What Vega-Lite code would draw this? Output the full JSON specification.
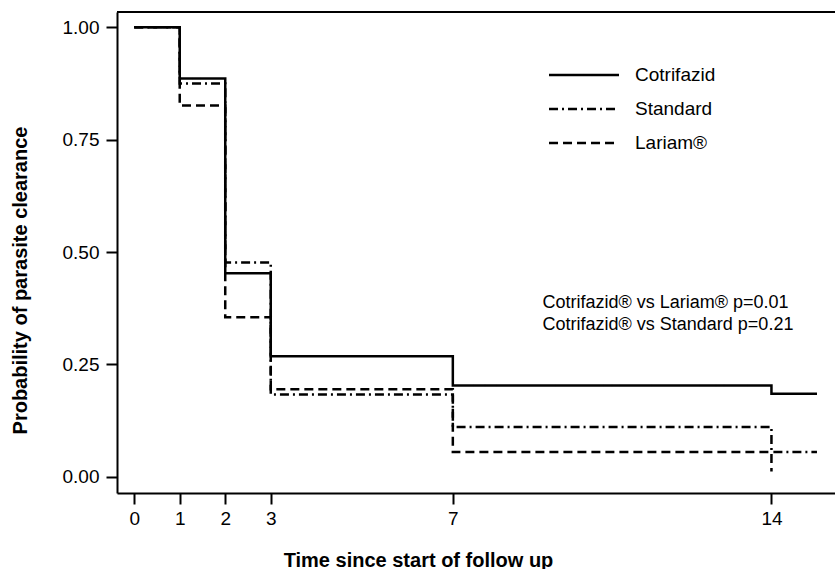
{
  "$schema": "https://vega.github.io/schema/vega-lite/v6.json",
  "width": 718,
  "height": 481,
  "autosize": {"type": "none"},
  "padding": {"left": 117, "top": 12, "right": 0, "bottom": 76},
  "background": "white",
  "config": {
    "view": {"stroke": null},
    "font": "Liberation Sans",
    "axis": {
      "grid": false,
      "domainColor": "black",
      "domainWidth": 2,
      "tickColor": "black",
      "tickWidth": 2,
      "tickSize": 11,
      "labelColor": "black",
      "labelFont": "Liberation Sans",
      "labelFontSize": 19,
      "titleFont": "Liberation Sans",
      "titleFontSize": 20,
      "titleFontWeight": "bold",
      "titleColor": "black"
    }
  },
  "layer": [
    {
      "data": {
        "values": [
          {"group": "Lariam®", "day": 0, "p": 1.0},
          {"group": "Lariam®", "day": 1, "p": 0.826},
          {"group": "Lariam®", "day": 2, "p": 0.355},
          {"group": "Lariam®", "day": 3, "p": 0.195},
          {"group": "Lariam®", "day": 7, "p": 0.055},
          {"group": "Lariam®", "day": 14, "p": 0.012},
          {"group": "Standard", "day": 0, "p": 1.0},
          {"group": "Standard", "day": 1, "p": 0.875},
          {"group": "Standard", "day": 2, "p": 0.477},
          {"group": "Standard", "day": 3, "p": 0.183},
          {"group": "Standard", "day": 7, "p": 0.111},
          {"group": "Standard", "day": 14, "p": 0.055},
          {"group": "Standard", "day": 15, "p": 0.055},
          {"group": "Cotrifazid", "day": 0, "p": 1.0},
          {"group": "Cotrifazid", "day": 1, "p": 0.886},
          {"group": "Cotrifazid", "day": 2, "p": 0.453},
          {"group": "Cotrifazid", "day": 3, "p": 0.268},
          {"group": "Cotrifazid", "day": 7, "p": 0.203},
          {"group": "Cotrifazid", "day": 14, "p": 0.185},
          {"group": "Cotrifazid", "day": 15, "p": 0.185}
        ]
      },
      "mark": {"type": "line", "interpolate": "step-after", "color": "black", "strokeWidth": 2.5},
      "encoding": {
        "x": {
          "field": "day",
          "type": "quantitative",
          "scale": {"domain": [-0.378, 15.396], "nice": false, "zero": false},
          "axis": {
            "values": [0, 1, 2, 3, 7, 14],
            "labelPadding": 5,
            "title": "Time since start of follow up",
            "titlePadding": 22,
            "titleX": 301,
            "titleAnchor": "start",
            "titleAlign": "center"
          }
        },
        "y": {
          "field": "p",
          "type": "quantitative",
          "scale": {"domain": [-0.036, 1.034], "nice": false, "zero": false},
          "axis": {
            "values": [0, 0.25, 0.5, 0.75, 1],
            "format": ".2f",
            "labelPadding": 7,
            "title": "Probability of parasite clearance",
            "titlePadding": 32,
            "titleY": 268,
            "titleAlign": "center"
          }
        },
        "strokeDash": {
          "field": "group",
          "type": "nominal",
          "scale": {
            "domain": ["Cotrifazid", "Standard", "Lariam®"],
            "range": [[1, 0], [9, 4, 2, 4], [9, 5]]
          },
          "legend": {
            "orient": "none",
            "legendX": 454,
            "legendY": 50,
            "title": null,
            "symbolType": "M-3,0H3",
            "symbolSize": 544,
            "symbolStrokeWidth": 2.5,
            "symbolStrokeColor": "black",
            "labelFont": "Liberation Sans",
            "labelFontSize": 19,
            "labelColor": "black",
            "labelOffset": 38,
            "rowPadding": 11
          }
        }
      }
    },
    {
      "data": {"values": [{}]},
      "mark": {"type": "rule", "color": "black", "strokeWidth": 2},
      "encoding": {"y": {"datum": 1.034}}
    },
    {
      "data": {"values": [{}]},
      "mark": {
        "type": "text",
        "align": "left",
        "baseline": "middle",
        "fontSize": 18,
        "lineHeight": 22,
        "font": "Liberation Sans",
        "color": "black",
        "text": ["Cotrifazid® vs Lariam® p=0.01", "Cotrifazid® vs Standard p=0.21"]
      },
      "encoding": {"x": {"datum": 8.97}, "y": {"datum": 0.387}}
    }
  ]
}
